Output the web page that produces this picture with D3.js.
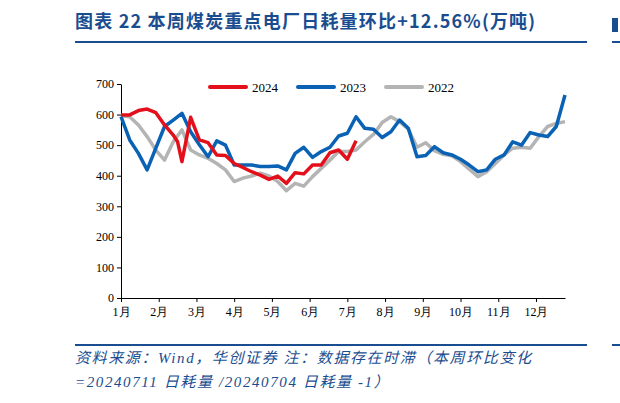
<!DOCTYPE html><html><head><meta charset="utf-8">
<script src="https://cdn.jsdelivr.net/npm/d3@7"></script>
<style>body{margin:0;background:#fff}</style></head><body>
<svg id="c" width="620" height="403"></svg>
<script>
const months=["1月","2月","3月","4月","5月","6月","7月","8月","9月","10月","11月","12月"];
const yTicks=[0,100,200,300,400,500,600,700];
const w2024=[0,1,2,3,4,5,6,6.5,7,8,9,10,11,12,13,14,15,16,17,18,19,20,21,22,23,24,25,26,27];
const v2024=[599,599,613,618,606,566,533,511,446,591,517,508,468,466,440,427,413,402,388,399,375,410,406,435,435,475,484,454,514];
const v2023=[593,517,473,419,490,561,582,604,544,501,462,514,500,435,435,435,430,430,432,419,473,493,460,479,493,530,539,593,555,552,525,544,582,555,462,466,495,475,468,454,435,413,419,454,468,511,500,541,533,528,561,664];
const v2022=[596,593,566,528,484,451,511,550,484,468,457,440,419,381,392,399,408,399,381,351,375,366,397,424,451,479,479,484,511,535,574,593,577,552,493,508,482,470,465,446,421,397,413,440,468,490,493,490,528,561,571,577];
const series=[
 {name:"2024",color:"#e3101c",x:w2024,v:v2024},
 {name:"2023",color:"#0a62b5",x:v2023.map((d,i)=>i),v:v2023},
 {name:"2022",color:"#b4b4b4",x:v2022.map((d,i)=>i),v:v2022}];
const svg=d3.select("#c");
const blue="#1a4d8f";
svg.append("text").attr("x",75).attr("y",28).attr("fill",blue).attr("font-weight","bold").attr("letter-spacing",1.2)
 .attr("font-size",18).attr("font-family","'Noto Sans CJK SC',serif").text("图表 22  本周煤炭重点电厂日耗量环比+12.56%(万吨)");
svg.append("line").attr("x1",75).attr("x2",587).attr("y1",42).attr("y2",42).attr("stroke",blue).attr("stroke-width",2);
svg.append("line").attr("x1",612).attr("x2",620).attr("y1",42).attr("y2",42).attr("stroke",blue).attr("stroke-width",2);
svg.append("rect").attr("x",612).attr("y",18).attr("width",6).attr("height",14).attr("fill",blue);
const x=d3.scaleLinear().domain([0,51]).range([121,565]);
const y=d3.scaleLinear().domain([0,700]).range([298,84]);
const sf="'Liberation Serif','Times New Roman',serif";
const ya=svg.append("g").attr("transform","translate(121,0)").call(d3.axisLeft(y).tickValues(yTicks).tickSize(4).tickSizeOuter(0));
ya.selectAll("text").attr("font-family",sf).attr("font-size",12).attr("fill","#000");
const xa=svg.append("g").attr("transform","translate(0,298)").call(d3.axisBottom(x).tickValues(months.map((m,i)=>i*52/12)).tickFormat((d,i)=>months[i]).tickSize(4).tickSizeOuter(0));
xa.selectAll("text").attr("font-family",sf).attr("font-size",12).attr("fill","#000").attr("dy","0.9em");
svg.selectAll(".domain,.tick line").attr("stroke","#000");
const line=d3.line().x(d=>x(d[0])).y(d=>y(d[1]));
[series[2],series[1],series[0]].forEach(s=>{
 svg.append("path").attr("d",line(s.x.map((xx,i)=>[xx,s.v[i]]))).attr("fill","none")
  .attr("stroke",s.color).attr("stroke-width",3.5).attr("stroke-linejoin","round");
});
const lx=[210,298,386];
series.forEach((s,i)=>{
 svg.append("line").attr("x1",lx[i]).attr("x2",lx[i]+36).attr("y1",87).attr("y2",87).attr("stroke",s.color).attr("stroke-width",4).attr("stroke-linecap","round");
 svg.append("text").attr("x",lx[i]+42).attr("y",92).attr("font-family",sf).attr("font-size",13).text(s.name);
});
svg.append("line").attr("x1",75).attr("x2",587).attr("y1",345).attr("y2",345).attr("stroke",blue).attr("stroke-width",2);
svg.append("line").attr("x1",612).attr("x2",620).attr("y1",345).attr("y2",345).attr("stroke",blue).attr("stroke-width",2);
const ff="'Liberation Serif','Noto Sans CJK SC',serif";
svg.append("text").attr("x",75).attr("y",363).attr("font-size",15).attr("letter-spacing",1.6).attr("font-style","italic").attr("fill",blue).attr("font-family",ff)
 .text("资料来源：Wind，华创证券 注：数据存在时滞（本周环比变化");
svg.append("text").attr("x",75).attr("y",387).attr("font-size",15).attr("letter-spacing",1.6).attr("font-style","italic").attr("fill",blue).attr("font-family",ff)
 .text("=20240711 日耗量 /20240704 日耗量 -1）");
</script></body></html>
